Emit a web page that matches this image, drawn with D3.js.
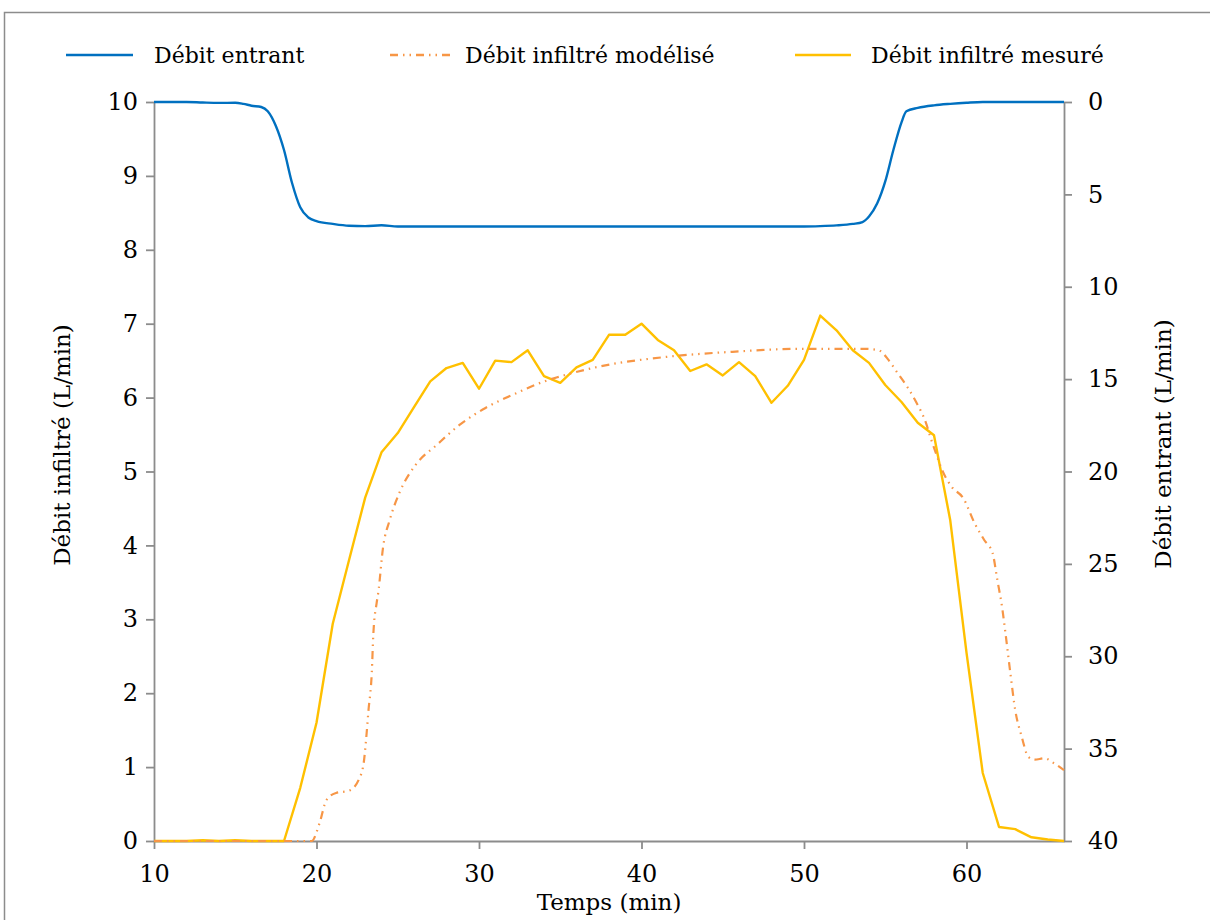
<!DOCTYPE html>
<html>
<head>
<meta charset="utf-8">
<script src="https://cdn.jsdelivr.net/npm/d3@7"></script>
<style>
  html, body { margin: 0; padding: 0; background: #fff; }
  svg { display: block; }
  text { font-family: "DejaVu Serif", "Liberation Serif", serif; fill: #000; }
</style>
</head>
<body>
<svg id="chart" width="1210" height="920"></svg>
<script>
// ---- Data ----
// Débit entrant (right axis, reversed), time in min
const entrantTime = [10, 11, 12, 13, 14, 15, 15.5, 16, 16.6, 17, 17.5, 18, 18.5, 19, 19.5, 20, 21, 22, 23, 24, 25, 30, 40, 48, 50, 51, 52, 53, 53.6, 54, 54.5, 55, 55.5, 56, 56.3, 57, 58, 59, 60, 61, 66];
const entrantValue = [0, 0, 0, 0.03, 0.05, 0.04, 0.1, 0.2, 0.27, 0.5, 1.3, 2.6, 4.4, 5.7, 6.25, 6.45, 6.6, 6.7, 6.72, 6.67, 6.74, 6.74, 6.74, 6.74, 6.74, 6.72, 6.68, 6.6, 6.5, 6.2, 5.5, 4.3, 2.6, 1.1, 0.5, 0.32, 0.18, 0.1, 0.04, 0, 0];

// Débit infiltré mesuré (left axis), one value per minute
const mesureTime = [10, 11, 12, 13, 14, 15, 16, 17, 18, 19, 20, 21, 22, 23, 24, 25, 26, 27, 28, 29, 30, 31, 32, 33, 34, 35, 36, 37, 38, 39, 40, 41, 42, 43, 44, 45, 46, 47, 48, 49, 50, 51, 52, 53, 54, 55, 56, 57, 58, 59, 60, 61, 62, 63, 64, 65, 66];
const mesureValue = [0, 0, 0, 0.01, 0, 0.01, 0, 0, 0, 0.72, 1.6, 2.94, 3.8, 4.65, 5.26, 5.52, 5.87, 6.22, 6.4, 6.47, 6.12, 6.5, 6.48, 6.64, 6.29, 6.2, 6.41, 6.51, 6.85, 6.85, 7.0, 6.78, 6.64, 6.36, 6.45, 6.3, 6.48, 6.29, 5.93, 6.16, 6.51, 7.11, 6.91, 6.64, 6.47, 6.17, 5.94, 5.66, 5.49, 4.34, 2.55, 0.92, 0.19, 0.16, 0.05, 0.02, 0];

// Débit infiltré modélisé (left axis)
const modeleTime = [10, 12, 14, 16, 18, 19, 19.7, 20.2, 20.6, 21.2, 22, 22.6, 22.9, 23.05, 23.2, 23.4, 23.5, 23.7, 23.8, 24.1, 24.5, 25.1, 26.1, 27.4, 28.8, 30.4, 32.3, 33.9, 34.9, 37.4, 41.5, 45.6, 49.7, 53.8, 54.6, 55.2, 55.7, 56.4, 56.9, 57.5, 57.8, 58.1, 58.5, 59.1, 59.8, 60.5, 61.1, 61.6, 61.9, 62.2, 62.4, 62.7, 63.0, 63.4, 63.8, 64.2, 64.8, 65.4, 66];
const modeleValue = [0, 0, 0, 0, 0, 0, 0, 0.25, 0.55, 0.65, 0.68, 0.83, 1.05, 1.37, 1.77, 2.27, 2.81, 3.22, 3.36, 3.98, 4.34, 4.71, 5.09, 5.36, 5.63, 5.86, 6.06, 6.21, 6.28, 6.42, 6.55, 6.62, 6.66, 6.66, 6.64, 6.51, 6.35, 6.13, 5.94, 5.66, 5.45, 5.26, 5.02, 4.79, 4.64, 4.3, 4.07, 3.9, 3.53, 3.15, 2.81, 2.27, 1.77, 1.41, 1.14, 1.1, 1.12, 1.05, 0.96];

const xTicks = [10, 20, 30, 40, 50, 60];
const leftTicks = [0, 1, 2, 3, 4, 5, 6, 7, 8, 9, 10];
const rightTicks = [0, 5, 10, 15, 20, 25, 30, 35, 40];

const seriesNames = ["Débit entrant", "Débit infiltré modélisé", "Débit infiltré mesuré"];
const xTitle = "Temps (min)";
const leftTitle = "Débit infiltré (L/min)";
const rightTitle = "Débit entrant (L/min)";

// ---- Layout ----
const colors = { entrant: "#0070C0", modele: "#F79646", mesure: "#FFC000", axis: "#8c8c8c" };
const plot = { left: 154, right: 1064, top: 102, bottom: 841 };
const FS = 22;      // legend
const FS_TICK = 24; // tick labels
const FS_TITLE = 23;

const svg = d3.select("#chart");

// outer border
svg.append("rect")
  .attr("x", 4.5).attr("y", 12.5).attr("width", 1300).attr("height", 1000)
  .attr("fill", "none").attr("stroke", "#8c8c8c").attr("stroke-width", 1.5);

const x = d3.scaleLinear().domain([10, 66]).range([plot.left, plot.right]);
const yL = d3.scaleLinear().domain([0, 10]).range([plot.bottom, plot.top]);
const yR = d3.scaleLinear().domain([0, 40]).range([plot.top, plot.bottom]);

function styleAxis(g) {
  g.select(".domain").attr("stroke", colors.axis).attr("stroke-width", 1.8);
  g.selectAll(".tick line").attr("stroke", colors.axis).attr("stroke-width", 1.8);
  g.selectAll(".tick text").attr("font-family", '"DejaVu Serif", serif').attr("font-size", FS_TICK).attr("fill", "#000");
}

// x axis
const gx = svg.append("g").attr("transform", `translate(0,${plot.bottom})`)
  .call(d3.axisBottom(x).tickValues(xTicks).tickFormat(d3.format("d")).tickSizeInner(8).tickSizeOuter(0).tickPadding(16));
styleAxis(gx);

// left axis
const gl = svg.append("g").attr("transform", `translate(${plot.left},0)`)
  .call(d3.axisLeft(yL).tickValues(leftTicks).tickFormat(d3.format("d")).tickSizeInner(8).tickSizeOuter(0).tickPadding(8));
styleAxis(gl);

// right axis
const gr = svg.append("g").attr("transform", `translate(${plot.right},0)`)
  .call(d3.axisRight(yR).tickValues(rightTicks).tickFormat(d3.format("d")).tickSizeInner(8).tickSizeOuter(0).tickPadding(16));
styleAxis(gr);

// lines
const entrantData = entrantTime.map((t, i) => [t, entrantValue[i]]);
const mesureData = mesureTime.map((t, i) => [t, mesureValue[i]]);
const modeleData = modeleTime.map((t, i) => [t, modeleValue[i]]);

svg.append("path").datum(mesureData)
  .attr("fill", "none").attr("stroke", colors.mesure).attr("stroke-width", 2.4)
  .attr("stroke-linejoin", "round")
  .attr("d", d3.line().x(d => x(d[0])).y(d => yL(d[1])));

svg.append("path").datum(modeleData)
  .attr("fill", "none").attr("stroke", colors.modele).attr("stroke-width", 2.2)
  .attr("stroke-dasharray", "8,5,1.5,5,1.5,5")
  .attr("d", d3.line().curve(d3.curveMonotoneX).x(d => x(d[0])).y(d => yL(d[1])));

svg.append("path").datum(entrantData)
  .attr("fill", "none").attr("stroke", colors.entrant).attr("stroke-width", 2.4)
  .attr("d", d3.line().curve(d3.curveMonotoneX).x(d => x(d[0])).y(d => yR(d[1])));

// legend
const legend = [
  { name: seriesNames[0], color: colors.entrant, dash: null, x0: 66, x1: 133, tx: 154 },
  { name: seriesNames[1], color: colors.modele, dash: "8,5,1.5,5,1.5,5", x0: 390, x1: 455, tx: 465 },
  { name: seriesNames[2], color: colors.mesure, dash: null, x0: 795, x1: 851, tx: 871 }
];
const lg = svg.append("g");
legend.forEach(l => {
  lg.append("line").attr("x1", l.x0).attr("x2", l.x1).attr("y1", 55).attr("y2", 55)
    .attr("stroke", l.color).attr("stroke-width", 2.4).attr("stroke-dasharray", l.dash);
  lg.append("text").attr("x", l.tx).attr("y", 55).attr("dy", "0.35em")
    .attr("font-size", FS).text(l.name);
});

// axis titles
svg.append("text").attr("x", (plot.left + plot.right) / 2).attr("y", 902).attr("dy", "0.35em")
  .attr("text-anchor", "middle").attr("font-size", FS_TITLE).text(xTitle);
svg.append("text").attr("transform", `translate(62,445) rotate(-90)`).attr("dy", "0.35em")
  .attr("text-anchor", "middle").attr("font-size", FS_TITLE).text(leftTitle);
svg.append("text").attr("transform", `translate(1163,444) rotate(-90)`).attr("dy", "0.35em")
  .attr("text-anchor", "middle").attr("font-size", FS_TITLE).text(rightTitle);
</script>
</body>
</html>
